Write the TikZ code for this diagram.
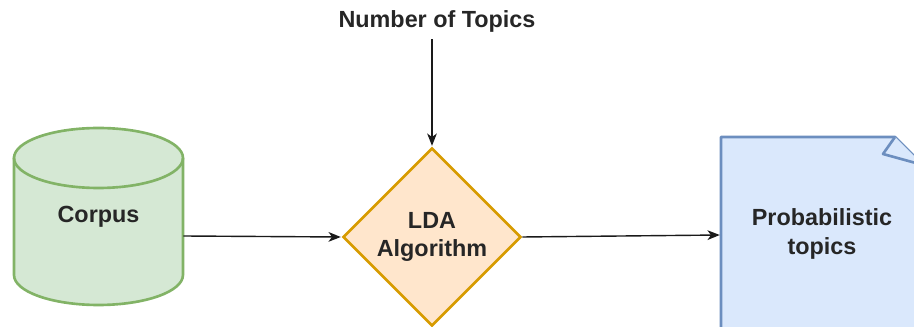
\documentclass[tikz,border=0pt]{standalone}
\usepackage{fontspec}
\setmainfont{Liberation Sans}
\usepackage{tikz}
\usetikzlibrary{arrows.meta, positioning, shapes.geometric, calc}
\definecolor{corpusgreen}{HTML}{D5E8D4}
\definecolor{corpusline}{HTML}{82B366}
\definecolor{ldaorange}{HTML}{FFE6CC}
\definecolor{ldaline}{HTML}{D79B00}
\definecolor{topicblue}{HTML}{DAE8FC}
\definecolor{topicline}{HTML}{6C8EBF}
\definecolor{arrowgray}{HTML}{1A1A1A}

\begin{document}
\begin{tikzpicture}[x=0.02cm, y=-0.02cm, >={Stealth[length=7pt, width=5.5pt, inset=2pt]},
    font=\fontsize{13.3}{16}\selectfont\bfseries,
    flow/.style={->, draw=arrowgray, line width=0.8pt, shorten >=0.5pt},
    label/.style={inner sep=0pt, align=center, text=black!85}]
    \useasboundingbox (0, 0) rectangle (914, 327);
    \clip (0, 0) rectangle (914, 327);

    % Corpus (cylinder)
    \node[label, minimum width=3.38cm, minimum height=3.54cm] (corpus) at (98.5, 236) {};
    \filldraw[fill=corpusgreen, draw=corpusline, line width=1.5pt]
        (14, 158) -- (14, 275) arc[start angle=180, end angle=360, x radius=1.69cm, y radius=0.6cm]
        -- (183, 158) arc[start angle=0, end angle=180, x radius=1.69cm, y radius=0.6cm] -- cycle;
    \draw[corpusline, line width=1.5pt]
        (14, 158) arc[start angle=180, end angle=360, x radius=1.69cm, y radius=0.6cm];
    \node[label] (corpustext) at (98.5, 217) {Corpus};

    % LDA (decision)
    \node[label, diamond, aspect=1, minimum width=3.56cm, minimum height=3.56cm,
          fill=ldaorange, draw=ldaline, line width=1.5pt] (lda) at (432, 237) {LDA\\Algorithm};

    % Probabilistic topics (folded page)
    \node[label, minimum width=4.04cm, minimum height=3.92cm] (topics) at (822, 235) {};
    \filldraw[fill=topicblue, draw=topicline, line width=1.5pt, line join=round]
        (721, 137) -- (895, 137) -- (923, 165) -- (923, 333) -- (721, 333) -- cycle;
    \filldraw[fill=topicblue, draw=topicline, line width=1.5pt, line join=round]
        (895, 137) .. controls (889, 146) .. (883, 154) -- (923, 165);
    \node[label] (topicstext) at (822, 234) {Probabilistic\\topics};

    % Input parameter
    \node[label] (ntopics) at (437, 21) {Number of Topics};

    % Connectors
    \draw[flow] (ntopics.south -| lda.north) ++(0, 7) -- (lda.north);
    \draw[flow] (corpus.east) -- (lda.west);
    \draw[flow] (lda.east) -- (topics.west);
\end{tikzpicture}
\end{document}
